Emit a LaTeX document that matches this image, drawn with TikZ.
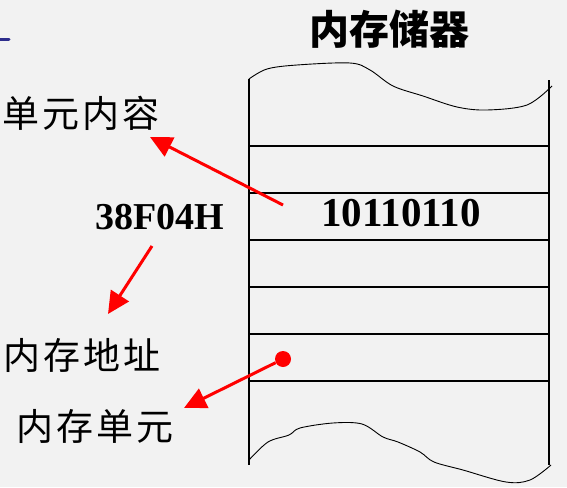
\documentclass[tikz,border=0pt]{standalone}
\usepackage{fontspec}
\setmainfont{Liberation Serif}
\newfontfamily\cjk{Noto Sans CJK SC}
\newfontfamily\cjkwide[LetterSpace=8]{Noto Sans CJK SC}
\usetikzlibrary{arrows.meta}
\definecolor{paper}{RGB}{242,242,242}
\definecolor{markblue}{RGB}{45,45,140}
\tikzset{%
	cellline/.style={line width=1.2pt},
	wave/.style={line width=0.9pt},
	redarrow/.style={-{Triangle[length=22pt, width=21pt]}, red, line width=3pt},
	title/.style={font=\cjk\bfseries\fontsize{40}{40}\selectfont, inner sep=0pt},
	caption/.style={font=\cjkwide\fontsize{37}{37}\selectfont, inner sep=0pt},
	bits/.style={font=\bfseries\fontsize{41}{41}\selectfont, inner sep=0pt}
}
\begin{document}
\begin{tikzpicture}[x=1pt, y=-1pt]
	\useasboundingbox[fill=paper] (0,0) rectangle (567,487);

	% memory block
	\draw[cellline] (249,79) -- (249,465);
	\draw[cellline] (549,80) -- (549,465);
	\foreach \y in {146,193,240,287,334,381}
		\draw[cellline] (249,\y) -- (549,\y);
	\draw[wave] plot[smooth, tension=0.55] coordinates {(249,79) (267,69) (297,65)
		(350,63) (370,70) (393,86) (423,96) (457,107) (487,110) (527,105) (552,86)};
	\draw[wave] plot[smooth, tension=0.55] coordinates {(249,460) (268,442) (289,435)
		(300,428) (333,423) (362,424) (383,437) (398,442) (420,452) (434,462)
		(463,470) (506,482) (530,480) (551,465)};

	\draw[markblue, line width=3pt, line cap=round] (0,40) -- (9,40);

	\node[title]   (mem)  at (389,29)  {内存储器};
	\node[caption] (cont) at (81,113)  {单元内容};
	\node[bits, font=\bfseries\fontsize{38}{38}\selectfont] (addr) at (160,217) {38F04H};
	\node[bits]    (val)  at (401,213) {10110110};
	\node[caption] (maddr) at (82,355) {内存地址};
	\node[caption] (mcell) at (95,426) {内存单元};
	\node[circle, fill=red, minimum width=16pt, minimum height=14pt, inner sep=0pt] (dot) at (283,359) {};

	\coordinate (from1) at (283,205);
	\coordinate (tip1)  at (150,137);
	\coordinate (from2) at (152,246);
	\coordinate (tip2)  at (108,314);
	\coordinate (tip3)  at (184,408);

	\draw[redarrow] (from1) -- (tip1);
	\draw[redarrow] (from2) -- (tip2);
	\draw[redarrow] (dot) -- (tip3);
\end{tikzpicture}
\end{document}
